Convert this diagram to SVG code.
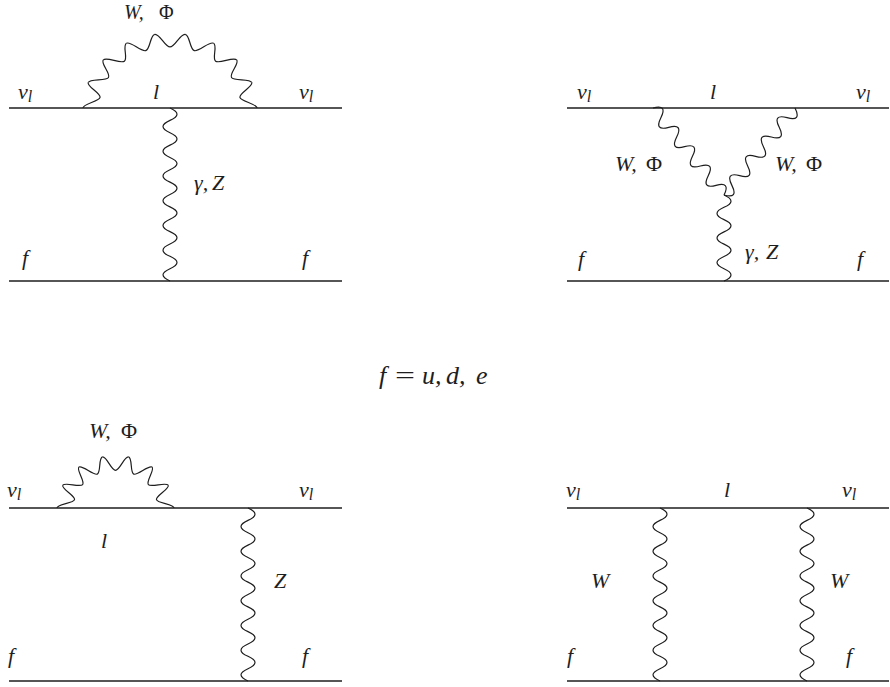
<svg xmlns="http://www.w3.org/2000/svg" width="890" height="687" viewBox="0 0 890 687">
<style>
.f{stroke:#1e1e1e;stroke-width:1.4;fill:none}
.w{stroke:#1e1e1e;stroke-width:1.2;fill:none;vector-effect:non-scaling-stroke}
.t{font-family:"Liberation Serif",serif;font-size:22px;font-style:italic;fill:#1e1e1e}
.u{font-style:normal}
.s{font-size:16px}
.L{font-size:26px}
.top{font-size:20px}
</style>
<defs>
<path id="vw" class="w" d="M0 0q14 6.18 0 12.36t0 12.36t0 12.36t0 12.36t0 12.36t0 12.36t0 12.36t0 12.36t0 12.36t0 12.36t0 12.36t0 12.36t0 12.36t0 12.36"/>
<path id="dw" class="w" d="M0 0q6.24 -14 12.48 0t12.48 0t12.48 0t12.48 0t12.48 0t12.48 0t12.48 0t12.48 0t12.48 0"/>
<path id="ab" class="w" d="M-15.11 -85.68C-10.19 -86.55 -5 -71 0 -71C5 -71 10.19 -86.55 15.11 -85.68"/>
<path id="as" class="w" d="M-13.02 -57.03C-8.93 -57.96 -4.2 -42 0 -42C4.2 -42 8.93 -57.96 13.02 -57.03"/>
</defs>
<g id="connectors">
<g id="c1">
<line class="f" x1="9" y1="108" x2="342" y2="108"/>
<line class="f" x1="9" y1="281" x2="342" y2="281"/>
<use href="#vw" transform="translate(170,108)"/>
<g transform="translate(170,108) scale(1,0.86)">
<use href="#ab" transform="rotate(-80)"/><use href="#ab" transform="rotate(-60)"/><use href="#ab" transform="rotate(-40)"/>
<use href="#ab" transform="rotate(-20)"/><use href="#ab"/><use href="#ab" transform="rotate(20)"/>
<use href="#ab" transform="rotate(40)"/><use href="#ab" transform="rotate(60)"/><use href="#ab" transform="rotate(80)"/>
</g>
</g>
<g id="c2">
<line class="f" x1="567" y1="108" x2="889" y2="108"/>
<line class="f" x1="567" y1="281" x2="889" y2="281"/>
<use href="#dw" transform="translate(653,108) rotate(50.79)"/>
<use href="#dw" transform="translate(795,108) rotate(129.21)"/>
<path class="w" d="M724 195q14 6.14 0 12.29t0 12.29t0 12.29t0 12.29t0 12.29t0 12.29t0 12.29"/>
</g>
<g id="c3">
<line class="f" x1="9" y1="508" x2="342" y2="508"/>
<line class="f" x1="9" y1="681" x2="342" y2="681"/>
<use href="#vw" transform="translate(248,508)"/>
<g transform="translate(115.5,508) scale(1,0.895)">
<use href="#as" transform="rotate(-77.14)"/><use href="#as" transform="rotate(-51.43)"/><use href="#as" transform="rotate(-25.71)"/>
<use href="#as"/><use href="#as" transform="rotate(25.71)"/><use href="#as" transform="rotate(51.43)"/><use href="#as" transform="rotate(77.14)"/>
</g>
</g>
<g id="c4">
<line class="f" x1="567" y1="508" x2="889" y2="508"/>
<line class="f" x1="567" y1="681" x2="889" y2="681"/>
<use href="#vw" transform="translate(660,508)"/>
<use href="#vw" transform="translate(807,508)"/>
</g>
</g>
<g id="d1-labels">
<text class="t top" x="124" y="19">W,</text><text class="t u top" x="159" y="19">Φ</text>
<text class="t" x="18" y="99">ν<tspan class="s" dy="3">l</tspan></text>
<text class="t" x="153" y="99">l</text>
<text class="t" x="299" y="99">ν<tspan class="s" dy="3">l</tspan></text>
<text class="t" x="194" y="190">γ,</text><text class="t" x="212" y="190">Z</text>
<text class="t" x="22" y="265">f</text>
<text class="t" x="302" y="265">f</text>
</g>
<g id="d2-labels">
<text class="t" x="577" y="99">ν<tspan class="s" dy="3">l</tspan></text>
<text class="t" x="710" y="99">l</text>
<text class="t" x="856" y="99">ν<tspan class="s" dy="3">l</tspan></text>
<text class="t" x="615" y="171">W,</text><text class="t u" x="646" y="171">Φ</text>
<text class="t" x="775" y="171">W,</text><text class="t u" x="806" y="171">Φ</text>
<text class="t" x="745" y="259">γ,</text><text class="t" x="766" y="259">Z</text>
<text class="t" x="578" y="266">f</text>
<text class="t" x="857" y="266">f</text>
</g>
<g id="legend">
<text class="t L" x="379" y="384">f</text>
<text class="t u L" x="395" y="384" textLength="20" lengthAdjust="spacingAndGlyphs">=</text>
<text class="t L" x="422" y="384">u,</text>
<text class="t L" x="446" y="384">d,</text>
<text class="t L" x="476" y="384">e</text>
</g>
<g id="d3-labels">
<text class="t" x="89" y="438">W,</text><text class="t u" x="121" y="438">Φ</text>
<text class="t" x="7" y="497">ν<tspan class="s" dy="3">l</tspan></text>
<text class="t" x="299" y="497">ν<tspan class="s" dy="3">l</tspan></text>
<text class="t" x="101" y="548">l</text>
<text class="t" x="274" y="588">Z</text>
<text class="t" x="8" y="663">f</text>
<text class="t" x="302" y="663">f</text>
</g>
<g id="d4-labels">
<text class="t" x="566" y="497">ν<tspan class="s" dy="3">l</tspan></text>
<text class="t" x="724" y="497">l</text>
<text class="t" x="842" y="497">ν<tspan class="s" dy="3">l</tspan></text>
<text class="t" x="591" y="588">W</text>
<text class="t" x="830" y="588">W</text>
<text class="t" x="567" y="663">f</text>
<text class="t" x="846" y="663">f</text>
</g>
</svg>
